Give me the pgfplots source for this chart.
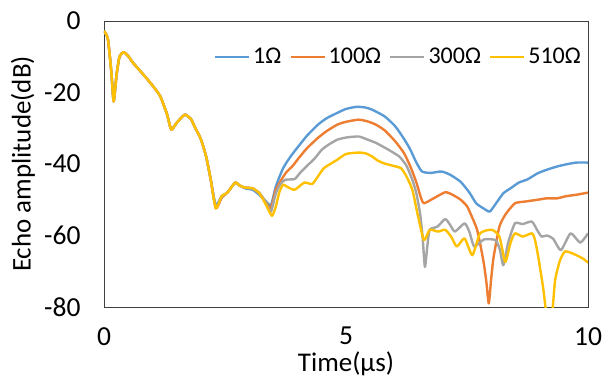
\documentclass[border=0pt]{standalone}
\usepackage{pgfplots}
\pgfplotsset{compat=1.18}
\usepackage{fontspec}
\setmainfont{Carlito}
\definecolor{cBlue}{HTML}{5B9BD5}
\definecolor{cOrange}{HTML}{ED7D31}
\definecolor{cGray}{HTML}{A5A5A5}
\definecolor{cYellow}{HTML}{FFC000}
\begin{document}
\begin{tikzpicture}
\path[use as bounding box] (-104pt,-73pt) rectangle (500pt,307pt);
\begin{axis}[
  scale only axis,
  width=484pt, height=286pt,
  xmin=0, xmax=10, ymin=-80, ymax=0,
  xtick={0,5,10}, ytick={-80,-60,-40,-20,0},
  major tick length=0pt,
  axis line style={draw=black!75, line width=0.8pt},
  /pgf/number format/assume math mode=true,
  tick label style={font=\fontsize{27.5}{32}\selectfont},
  xticklabel style={yshift=-19pt, inner sep=1pt},
  yticklabel style={xshift=-20pt},
  xlabel={Time(μs)}, ylabel={Echo amplitude(dB)},
  label style={font=\fontsize{27}{32}\selectfont},
  xlabel style={at={([yshift=-64pt]axis description cs:0.5,0)}, anchor=base, inner sep=0pt},
  ylabel style={at={([xshift=-81pt]axis description cs:0,0.5)}, anchor=center},
  legend columns=4,
  legend style={draw=none, fill=none, at={(1,1)}, anchor=north east, xshift=-2pt, yshift=-23pt,
    font=\fontsize{24}{28}\selectfont, column sep=1pt,
    /tikz/every even column/.append style={column sep=6pt}},
  legend image code/.code={\draw[#1, line width=2.4pt] (0pt,0pt) -- (34pt,0pt);},
  clip=true,
  every axis plot/.append style={line width=2.4pt, line join=round, smooth, tension=0.35},
]
\addplot[cBlue] coordinates {
(0,-2.8)(0.08,-5)(0.15,-14)(0.2,-22.5)(0.26,-15)(0.32,-10)(0.4,-8.7)(0.5,-9.8)(0.6,-11.7)(0.84,-15.4)(1.0,-18)(1.16,-21)(1.3,-26)(1.39,-30.4)(1.5,-28.5)(1.67,-26.2)(1.8,-27.5)(1.87,-29.5)(2.0,-33)(2.11,-37.9)(2.2,-44)(2.31,-51.5)(2.43,-49)(2.55,-48)(2.71,-45.2)(2.8,-46)(2.91,-46.8)(3.07,-47.2)(3.2,-48.5)(3.27,-49.5)(3.35,-50.5)(3.45,-51.5)
(3.55,-46.3)(3.7,-41.2)(3.85,-38)(4.02,-35)(4.2,-32)(4.42,-29)(4.6,-27.2)(4.82,-25.7)(5.0,-24.6)(5.22,-24)(5.4,-24.2)(5.54,-24.8)(5.8,-26.7)(6.02,-29.5)(6.2,-33)(6.33,-36)(6.45,-39.5)(6.57,-42.1)(6.75,-42.5)(6.97,-42.1)(7.15,-43)(7.37,-45)(7.55,-48)(7.69,-51)(7.85,-52.5)(7.97,-53.3)(8.1,-51)(8.25,-48.2)(8.4,-46.8)(8.57,-45.2)(8.75,-44.3)(8.96,-42.6)(9.15,-41.6)(9.36,-40.7)(9.55,-40.1)(9.76,-39.6)(10,-39.6)
};
\addlegendentry{1Ω}
\addplot[cOrange] coordinates {
(0,-2.8)(0.08,-5)(0.15,-14)(0.2,-22.5)(0.26,-15)(0.32,-10)(0.4,-8.7)(0.5,-9.8)(0.6,-11.7)(0.84,-15.4)(1.0,-18)(1.16,-21)(1.3,-26)(1.39,-30.4)(1.5,-28.5)(1.67,-26.2)(1.8,-27.5)(1.87,-29.5)(2.0,-33)(2.11,-37.9)(2.2,-44)(2.31,-52.4)(2.43,-49.5)(2.55,-48)(2.71,-45.2)(2.8,-46)(2.91,-46.6)(3.07,-46.8)(3.2,-48)(3.27,-49.2)(3.35,-50.8)(3.45,-52.3)
(3.55,-47.2)(3.75,-42.6)(3.9,-40.5)(4.02,-38.4)(4.2,-35.5)(4.42,-32.7)(4.6,-30.8)(4.82,-29)(5.0,-28.2)(5.26,-27.6)(5.45,-28.1)(5.62,-29)(5.8,-30.6)(6.02,-33.7)(6.2,-37)(6.33,-40.7)(6.45,-45)(6.55,-49.5)(6.61,-51)(6.81,-49.6)(7.05,-47.9)(7.2,-48.6)(7.37,-50)(7.5,-51.8)(7.57,-53.8)(7.7,-58)(7.77,-62.2)(7.85,-68)(7.9,-73)(7.95,-79)(8.0,-72)(8.05,-66)(8.17,-57.5)(8.3,-54)(8.49,-51)(8.7,-50.5)(8.96,-50)(9.15,-49.6)(9.36,-49.6)(9.55,-49)(9.76,-48.6)(10,-48)
};
\addlegendentry{100Ω}
\addplot[cGray] coordinates {
(0,-2.8)(0.08,-5)(0.15,-14)(0.2,-22.5)(0.26,-15)(0.32,-10)(0.4,-8.7)(0.5,-9.8)(0.6,-11.7)(0.84,-15.4)(1.0,-18)(1.16,-21)(1.3,-26)(1.39,-30.4)(1.5,-28.5)(1.67,-26.2)(1.8,-27.5)(1.87,-29.5)(2.0,-33)(2.11,-37.9)(2.2,-44)(2.31,-52)(2.43,-49.2)(2.55,-48)(2.71,-45.2)(2.8,-46)(2.91,-46.6)(3.07,-46.8)(3.2,-48)(3.27,-49.2)(3.35,-51)(3.45,-53.3)
(3.55,-48.2)(3.65,-45.5)(3.75,-44.4)(3.94,-44.2)(4.05,-42.5)(4.18,-40.7)(4.35,-38.5)(4.5,-36)(4.65,-34.5)(4.82,-33.2)(5.0,-32.6)(5.26,-32.3)(5.45,-33.2)(5.62,-34.1)(5.85,-35.8)(6.1,-37.9)(6.25,-40.5)(6.37,-44.4)(6.45,-48)(6.53,-53.8)(6.58,-60)(6.63,-68.8)(6.68,-63)(6.73,-58.4)(6.89,-57.5)(7.05,-55.4)(7.15,-57)(7.25,-58.9)(7.45,-56.6)(7.55,-59)(7.65,-63.1)(7.85,-61.1)(8.09,-61.3)(8.18,-64)(8.25,-68.3)(8.35,-62)(8.49,-56.6)(8.65,-56.8)(8.84,-56.1)(8.95,-58.5)(9.04,-60.3)(9.15,-60)(9.28,-60.9)(9.44,-64.1)(9.64,-59.4)(9.84,-62)(10,-59.4)
};
\addlegendentry{300Ω}
\addplot[cYellow] coordinates {
(0,-2.8)(0.08,-5)(0.15,-14)(0.2,-22.5)(0.26,-15)(0.32,-10)(0.4,-8.7)(0.5,-9.8)(0.6,-11.7)(0.84,-15.4)(1.0,-18)(1.16,-21)(1.3,-26)(1.39,-30.4)(1.5,-28.5)(1.67,-26.2)(1.8,-27.5)(1.87,-29.5)(2.0,-33)(2.11,-37.9)(2.2,-44)(2.31,-52.4)(2.43,-49)(2.55,-48)(2.71,-45.2)(2.8,-46)(2.91,-46.6)(3.07,-46.8)(3.2,-48)(3.27,-49.5)(3.35,-51.5)(3.47,-54.5)
(3.55,-51.9)(3.62,-48)(3.7,-45.8)(3.8,-46.5)(3.94,-47.2)(4.14,-45.2)(4.3,-45.6)(4.42,-43.5)(4.54,-41.2)(4.7,-39.8)(4.82,-38.8)(5.0,-37.2)(5.26,-36.8)(5.4,-37)(5.54,-37.9)(5.65,-39)(5.78,-39.8)(6.0,-40.6)(6.14,-41.2)(6.25,-43.5)(6.37,-47.2)(6.49,-54.7)(6.61,-61.3)(6.73,-58.4)(6.9,-58.9)(7.05,-58.4)(7.18,-60.5)(7.29,-63.1)(7.45,-60.8)(7.61,-65.5)(7.77,-59.4)(8.01,-58.4)(8.17,-60.3)(8.29,-67.4)(8.4,-62)(8.49,-59.4)(8.65,-60.3)(8.84,-59.4)(8.9,-61)(8.96,-65)(9.02,-70)(9.08,-75.3)(9.14,-82)(9.2,-85)(9.26,-82)(9.32,-72.5)(9.42,-67)(9.52,-64.5)(9.64,-64.8)(9.76,-65.5)(9.9,-66.5)(10,-67.6)
};
\addlegendentry{510Ω}
\end{axis}
\end{tikzpicture}
\end{document}
